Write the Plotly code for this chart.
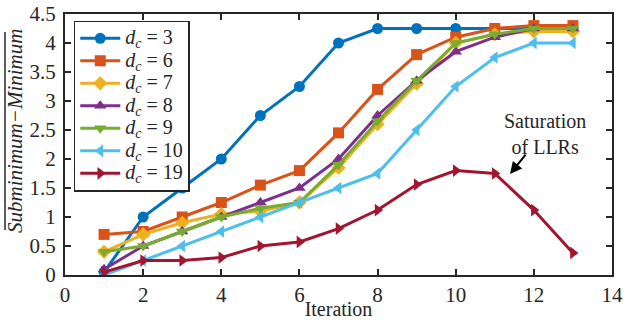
import plotly.graph_objects as go

iterations = list(range(1, 14))
dc3 = [0.05, 1.0, 1.5, 2.0, 2.75, 3.25, 4.0, 4.25, 4.25, 4.25, 4.25, 4.25, 4.25]
dc6 = [0.7, 0.75, 1.0, 1.25, 1.55, 1.8, 2.45, 3.2, 3.8, 4.1, 4.25, 4.3, 4.3]
dc7 = [0.4, 0.7, 0.9, 1.05, 1.1, 1.25, 1.85, 2.6, 3.3, 4.0, 4.15, 4.2, 4.2]
dc8 = [0.1, 0.5, 0.75, 1.0, 1.25, 1.5, 2.0, 2.75, 3.35, 3.85, 4.1, 4.25, 4.25]
dc9 = [0.4, 0.5, 0.75, 1.0, 1.15, 1.25, 1.9, 2.65, 3.35, 4.0, 4.15, 4.25, 4.25]
dc10 = [0.0, 0.25, 0.5, 0.75, 1.0, 1.25, 1.5, 1.75, 2.5, 3.25, 3.75, 4.0, 4.0]
dc19 = [0.05, 0.25, 0.25, 0.3, 0.5, 0.57, 0.8, 1.12, 1.56, 1.8, 1.75, 1.12, 0.38]

labels = ["3", "6", "7", "8", "9", "10", "19"]
series = [dc3, dc6, dc7, dc8, dc9, dc10, dc19]
colors = ["#0072BD", "#D95319", "#EDB120", "#7E2F8E", "#77AC30", "#4DBEEE", "#A2142F"]
symbols = ["circle", "square", "diamond", "triangle-up", "triangle-down", "triangle-left", "triangle-right"]

font = "Liberation Serif, Times New Roman, serif"

fig = go.Figure()
for lab, ys, c, s in zip(labels, series, colors, symbols):
    fig.add_trace(go.Scatter(
        x=iterations, y=ys, mode="lines+markers",
        name=f'<span style="font-size:20px"><i>d</i><sub><i>c</i></sub> = {lab}</span>',
        line=dict(color=c, width=3),
        marker=dict(symbol=s, size=11, color=c),
    ))

axis_common = dict(
    showgrid=False, zeroline=False, showline=True, linecolor="#262626", linewidth=2,
    mirror="ticks", ticks="inside", ticklen=6, tickwidth=1.5, tickcolor="#262626",
    tickfont=dict(family=font, size=21, color="#262626"), automargin=False,
)

fig.update_layout(
    width=628, height=320,
    margin=dict(l=65, r=16, t=14, b=45),
    paper_bgcolor="white", plot_bgcolor="white",
    font=dict(family=font, color="#262626"),
    xaxis=dict(range=[0, 14], dtick=2, title=dict(text="Iteration", font=dict(family=font, size=20), standoff=0), **axis_common),
    yaxis=dict(range=[0, 4.5], dtick=0.5, ticklabelstandoff=3, **axis_common),
    legend=dict(x=0.016, y=0.975, xanchor="left", yanchor="top",
                bordercolor="#262626", borderwidth=1.5, bgcolor="white",
                font=dict(family=font, size=15), itemwidth=40, tracegroupgap=0),
    showlegend=True,
)

# y-axis title (rotated) with its overline
fig.add_annotation(x=-0.0914, y=0.552, xref="paper", yref="paper", showarrow=False,
                   xanchor="center", yanchor="middle",
                   textangle=-90, text="<i>Subminimum−Minimum</i>",
                   font=dict(family=font, size=21, color="#262626"))
fig.add_shape(type="line", xref="paper", yref="paper", x0=-0.1097, x1=-0.1097, y0=0.172, y1=0.931,
              line=dict(color="#262626", width=1.5))

fig.add_annotation(x=11.39, y=1.74, ax=11.82, ay=2.1, axref="x", ayref="y",
                   xref="x", yref="y", text="", showarrow=True,
                   arrowhead=2, arrowsize=1.2, arrowwidth=2, arrowcolor="black")
fig.add_annotation(x=12.29, y=2.43, xref="x", yref="y", showarrow=False,
                   text="Saturation<br>of LLRs", font=dict(family=font, size=20, color="#262626"))

fig.write_html("out.html", config={"displayModeBar": False},
               post_script="document.body.style.margin='0';")
